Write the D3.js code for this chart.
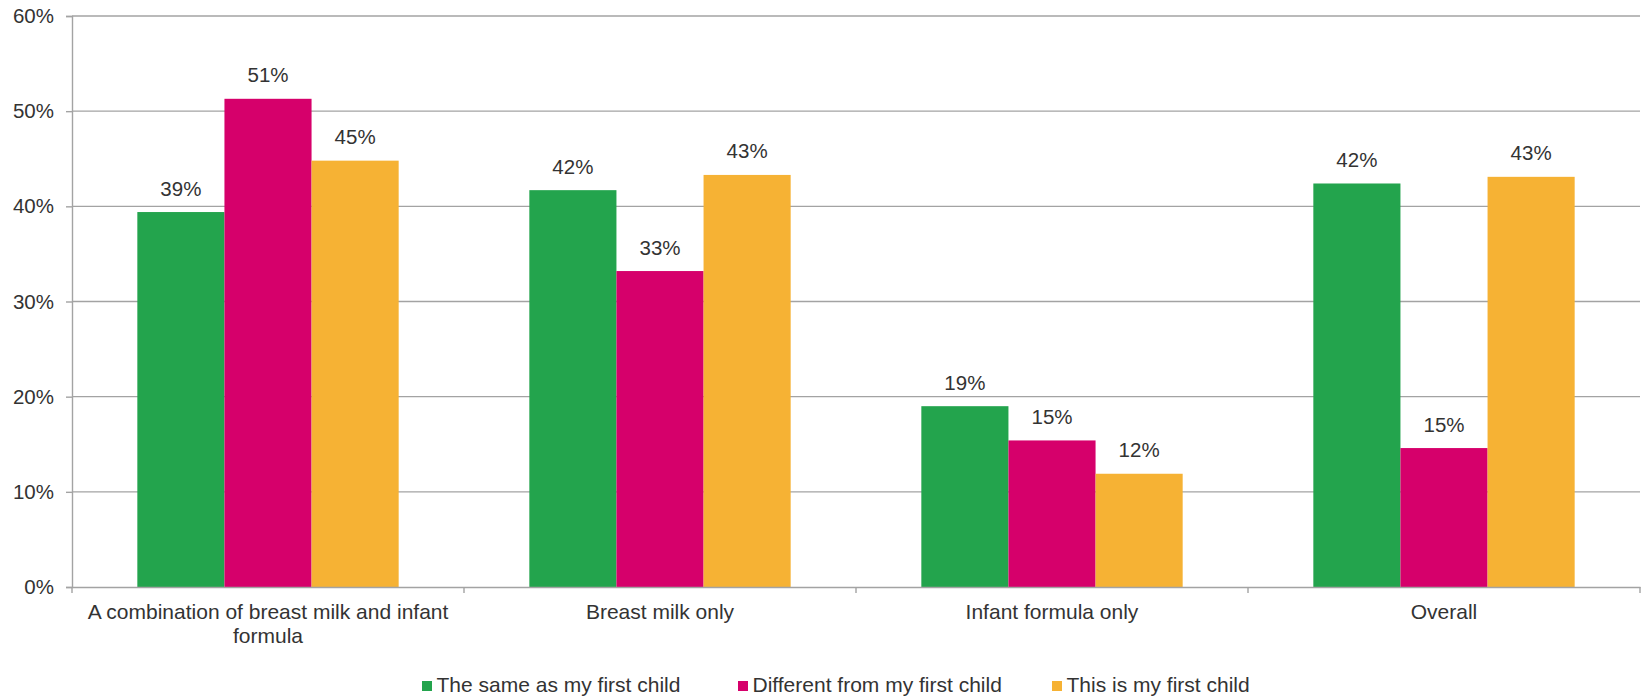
<!DOCTYPE html>
<html>
<head>
<meta charset="utf-8">
<script src="https://cdn.jsdelivr.net/npm/d3@7/dist/d3.min.js"></script>
<style>
  html, body { margin: 0; padding: 0; background: #fff; }
  svg { display: block; }
  text { font-family: "Liberation Sans", Arial, sans-serif; fill: #333; }
</style>
</head>
<body>
<svg id="chart" width="1644" height="698"></svg>
<script>
// Feeding method for this child compared with the first child
const categories = [
  "A combination of breast milk and infant formula",
  "Breast milk only",
  "Infant formula only",
  "Overall"
];
const seriesNames = [
  "The same as my first child",
  "Different from my first child",
  "This is my first child"
];
const seriesColors = ["#23A44D", "#D6006B", "#F6B234"];
const sameAsFirst    = [0.394, 0.417, 0.190, 0.424];
const differentFirst = [0.513, 0.332, 0.154, 0.146];
const firstChild     = [0.448, 0.433, 0.119, 0.431];
const yTicks = [0, 0.1, 0.2, 0.3, 0.4, 0.5, 0.6];

const seriesValues = [sameAsFirst, differentFirst, firstChild];

const svg = d3.select("#chart");
const plot = { left: 72, right: 1640, top: 16, bottom: 587 };

const x = d3.scaleBand().domain(categories).range([plot.left, plot.right]).padding(0);
const xs = d3.scaleBand().domain(seriesNames).range([0, x.bandwidth()])
  .paddingInner(0).paddingOuter(0.75);
const y = d3.scaleLinear().domain([0, 0.6]).range([plot.bottom, plot.top]);

const gridColor = "#a3a3a3";

// horizontal gridlines
svg.append("g")
  .selectAll("line")
  .data(yTicks.filter(t => t > 0))
  .join("line")
  .attr("x1", plot.left).attr("x2", plot.right)
  .attr("y1", d => y(d)).attr("y2", d => y(d))
  .attr("stroke", gridColor).attr("stroke-width", 1.4);

// bars
const groups = svg.append("g")
  .selectAll("g")
  .data(categories)
  .join("g")
  .attr("transform", d => `translate(${x(d)},0)`);

groups.selectAll("rect")
  .data((c, i) => seriesNames.map((s, k) => ({ s, k, v: seriesValues[k][i] })))
  .join("rect")
  .attr("x", d => xs(d.s))
  .attr("width", xs.bandwidth())
  .attr("y", d => y(d.v))
  .attr("height", d => y(0) - y(d.v))
  .attr("fill", d => seriesColors[d.k]);

// value labels
groups.selectAll("text.val")
  .data((c, i) => seriesNames.map((s, k) => ({ s, k, v: seriesValues[k][i] })))
  .join("text")
  .attr("class", "val")
  .attr("x", d => xs(d.s) + xs.bandwidth() / 2)
  .attr("y", d => y(d.v) - 16.5)
  .attr("text-anchor", "middle")
  .attr("font-size", 20.5)
  .text(d => Math.round(d.v * 100) + "%");

// y axis
const yAxis = svg.append("g")
  .attr("transform", `translate(${plot.left},0)`)
  .call(d3.axisLeft(y).tickValues(yTicks).tickFormat(d3.format(".0%"))
    .tickSize(6).tickPadding(12));
yAxis.select(".domain").attr("stroke", gridColor).attr("stroke-width", 1.4);
yAxis.selectAll(".tick line").attr("stroke", gridColor).attr("stroke-width", 1.4);
yAxis.selectAll(".tick text").attr("font-size", 20.5)
  .attr("font-family", "'Liberation Sans', Arial, sans-serif").attr("fill", "#333");

// x axis: ticks at category boundaries
const xAxis = svg.append("g")
  .attr("transform", `translate(0,${plot.bottom})`)
  .call(d3.axisBottom(x).tickSize(0).tickFormat(""));
xAxis.select(".domain").attr("stroke", gridColor).attr("stroke-width", 1.6);
xAxis.selectAll(".tick").remove();
xAxis.selectAll("line.bound")
  .data(d3.range(categories.length + 1))
  .join("line")
  .attr("class", "bound")
  .attr("x1", i => plot.left + i * x.step()).attr("x2", i => plot.left + i * x.step())
  .attr("y1", 0).attr("y2", 6)
  .attr("stroke", gridColor).attr("stroke-width", 1.4);

// category labels, wrapped within the band
const catLabels = svg.append("g")
  .selectAll("text")
  .data(categories)
  .join("text")
  .attr("x", d => x(d) + x.bandwidth() / 2)
  .attr("y", 619)
  .attr("text-anchor", "middle")
  .attr("font-size", 21);

catLabels.each(function (d) {
  const el = d3.select(this);
  const words = d.split(" ");
  const maxW = x.bandwidth() - 14;
  let line = [];
  let tspan = el.append("tspan").attr("x", el.attr("x")).attr("dy", 0);
  for (const w of words) {
    line.push(w);
    tspan.text(line.join(" "));
    if (tspan.node().getComputedTextLength() > maxW && line.length > 1) {
      line.pop();
      tspan.text(line.join(" "));
      line = [w];
      tspan = el.append("tspan").attr("x", el.attr("x")).attr("dy", 23.5).text(w);
    }
  }
});

// legend
const legendX = [422, 738, 1052];
const legend = svg.append("g")
  .selectAll("g")
  .data(seriesNames)
  .join("g")
  .attr("transform", (d, i) => `translate(${legendX[i]},681)`);
legend.append("rect")
  .attr("width", 10).attr("height", 10)
  .attr("fill", (d, i) => seriesColors[i]);
legend.append("text")
  .attr("x", 14.5).attr("y", 11)
  .attr("font-size", 21)
  .text(d => d);
</script>
</body>
</html>
